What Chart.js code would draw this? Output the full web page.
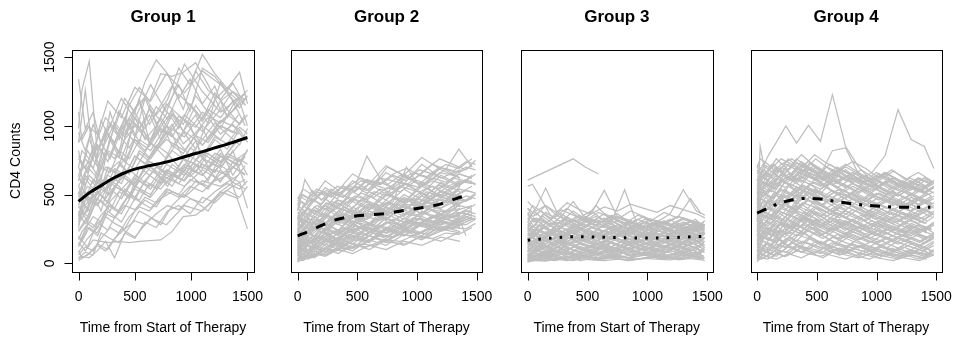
<!DOCTYPE html>
<html>
<head>
<meta charset="utf-8">
<script src="https://cdn.jsdelivr.net/npm/chart.js@4.4.1/dist/chart.umd.min.js"></script>
<style>
  html, body { margin: 0; padding: 0; background: #fff; }
  #wrap { position: relative; width: 957px; height: 341px; }
  #wrap canvas { position: absolute; left: 0; top: 0; }
</style>
</head>
<body>
<div id="wrap">
  <canvas id="g1" width="957" height="341"></canvas>
  <canvas id="g2" width="957" height="341"></canvas>
  <canvas id="g3" width="957" height="341"></canvas>
  <canvas id="g4" width="957" height="341"></canvas>
</div>
<script>
// axis labels
const groupTitles = ["Group 1", "Group 2", "Group 3", "Group 4"];
const xTickValues = [0, 500, 1000, 1500];
const yTickValues = [0, 500, 1000, 1500];
const xTitle = "Time from Start of Therapy";
const yTitle = "CD4 Counts";

// visit schedules (days since start of therapy)
const days1a = [0, 60, 130, 200, 280, 360, 450, 540, 630, 730, 830, 930, 1040, 1150, 1260, 1370, 1480];
const days1b = [0, 30, 95, 165, 240, 320, 410, 500, 590, 690, 790, 890, 990, 1100, 1210, 1320, 1430, 1500];
const days1c = [0, 80, 170, 260, 380, 500, 640, 780, 940, 1100, 1260, 1420];
const days2a = [0, 60, 120, 200, 280, 380, 480, 580, 690, 800, 910, 1020, 1130, 1240, 1350, 1460];
const days2b = [0, 30, 90, 160, 240, 330, 430, 530, 640, 750, 860, 970, 1080, 1190, 1300, 1410, 1490];
const days2c = [0, 45, 140, 230, 340, 460, 600, 740, 890, 1040, 1200, 1360];
const days3a = [0, 70, 150, 240, 330, 430, 530, 640, 750, 860, 970, 1080, 1190, 1300, 1410, 1480];
const days3b = [0, 40, 110, 190, 280, 380, 480, 590, 700, 810, 920, 1030, 1140, 1250, 1360, 1450];
const days3c = [0, 50, 130, 220, 320, 440, 570, 700, 840, 980, 1120, 1260, 1400, 1470];
const days4a = [0, 50, 120, 200, 290, 380, 480, 580, 690, 800, 910, 1020, 1130, 1240, 1350, 1460];
const days4b = [0, 25, 90, 160, 240, 330, 430, 530, 630, 740, 850, 960, 1070, 1180, 1290, 1400, 1480];
const days4c = [0, 70, 160, 260, 370, 490, 610, 740, 870, 1000, 1140, 1280, 1420];
const days4d = [0, 35, 140, 230, 330, 440, 550, 670, 800, 940, 1080, 1220, 1360, 1480];

// per-subject CD4 counts, group 1
const cd4Group1a = [
  [450, 620, 540, 700, 660, 820, 760, 900, 850, 980, 920, 1050, 990, 1120, 1060, 1180, 1230],
  [1340, 980, 1100, 860, 1020, 940, 1060, 1180, 1010, 1150, 1290, 1120, 1400, 1260, 1190, 1310, 1150],
  [60, 120, 90, 180, 260, 220, 340, 410, 380, 470, 520, 480, 600, 560, 650, 700, 640],
  [320, 520, 430, 610, 560, 720, 650, 800, 740, 690, 860, 800, 930, 880, 1000, 950, 1080],
  [700, 560, 810, 690, 900, 770, 1020, 880, 1140, 950, 1090, 1010, 1220, 1100, 980, 1150, 1240],
  [230, 300, 260, 350, 420, 380, 500, 460, 580, 540, 640, 600, 720, 680, 590, 740, 800],
  [520, 470, 610, 560, 680, 740, 650, 820, 760, 900, 1080, 960, 1150, 1020, 1320, 1180, 1000],
  [150, 90, 170, 160, 150, 160, 150, 160, 165, 170, 230, 340, 350, 420, 500, 560, 610],
  [880, 1260, 760, 1040, 900, 1110, 980, 1200, 870, 1060, 940, 760, 890, 700, 830, 640, 780],
  [410, 360, 480, 540, 500, 600, 680, 620, 740, 700, 820, 760, 660, 800, 730, 860, 920],
  [40, 80, 60, 220, 180, 150, 260, 380, 340, 280, 420, 500, 450, 380, 520, 590, 540],
  [600, 760, 690, 880, 1000, 920, 1150, 1280, 1180, 1380, 1360, 1390, 1460, 1300, 1120, 1250, 1190],
  [280, 420, 500, 380, 600, 560, 470, 700, 640, 580, 720, 660, 800, 740, 690, 820, 570],
  [950, 820, 1010, 880, 760, 930, 840, 980, 1080, 900, 1010, 870, 950, 1060, 940, 1010, 890],
  [130, 250, 340, 300, 450, 520, 480, 600, 560, 680, 640, 760, 720, 600, 780, 700, 650],
  [500, 640, 580, 760, 1100, 900, 1050, 980, 1120, 1040, 850, 960, 1080, 900, 1030, 1110, 1200],
  [360, 290, 410, 460, 380, 520, 600, 540, 480, 630, 560, 690, 610, 540, 680, 590, 710],
  [760, 690, 840, 610, 920, 800, 1160, 1040, 870, 990, 1110, 960, 830, 1030, 1180, 1250, 1150]
];
const cd4Group1b = [
  [90, 40, 70, 130, 90, 180, 250, 310, 280, 360, 420, 390, 470, 440, 520, 580, 540, 600],
  [980, 1260, 1470, 820, 960, 880, 1060, 920, 1200, 1010, 1150, 1300, 1110, 1420, 1360, 1240, 1130, 1220],
  [480, 560, 420, 620, 540, 690, 640, 780, 720, 860, 800, 700, 840, 780, 920, 870, 990, 940],
  [200, 160, 260, 220, 340, 290, 250, 380, 460, 410, 540, 500, 610, 570, 680, 640, 760, 720],
  [640, 580, 720, 860, 780, 1000, 920, 1060, 980, 1140, 1050, 1230, 1150, 1030, 1190, 1280, 1200, 1260],
  [30, 50, 40, 90, 160, 40, 220, 180, 300, 260, 380, 420, 360, 480, 440, 530, 480, 560],
  [560, 500, 640, 580, 700, 660, 760, 1060, 900, 1000, 940, 1070, 1010, 760, 900, 830, 970, 880],
  [340, 450, 380, 520, 470, 560, 640, 580, 700, 650, 560, 690, 630, 720, 670, 780, 740, 820],
  [820, 700, 900, 780, 980, 860, 740, 900, 820, 960, 1100, 980, 1160, 1050, 1240, 1120, 1010, 1080],
  [260, 380, 330, 470, 420, 560, 520, 460, 600, 540, 680, 630, 780, 720, 660, 800, 750, 640],
  [700, 820, 760, 900, 1060, 980, 1200, 1100, 1320, 1480, 1380, 1200, 1340, 1160, 1290, 1060, 1180, 1000],
  [420, 500, 460, 560, 620, 560, 520, 640, 590, 700, 660, 620, 740, 690, 800, 760, 710, 830],
  [170, 230, 300, 260, 360, 330, 420, 390, 480, 440, 520, 480, 560, 520, 600, 640, 590, 400],
  [1100, 900, 1000, 760, 880, 1020, 940, 1120, 1210, 1080, 1190, 1420, 1300, 1520, 1380, 1270, 1390, 1160],
  [380, 320, 440, 520, 460, 400, 540, 480, 600, 700, 640, 580, 700, 800, 740, 680, 420, 250],
  [600, 680, 740, 640, 820, 760, 900, 1000, 920, 830, 960, 880, 780, 900, 1020, 940, 860, 980]
];
const cd4Group1c = [
  [300, 520, 460, 700, 640, 900, 820, 1000, 920, 1100, 1020, 1150],
  [80, 180, 260, 420, 360, 540, 480, 620, 700, 640, 780, 720],
  [520, 380, 600, 500, 760, 680, 880, 760, 960, 860, 1040, 980],
  [190, 120, 300, 240, 420, 560, 500, 680, 600, 760, 700, 860],
  [640, 820, 700, 960, 1200, 1050, 1300, 1100, 1450, 1250, 1100, 1200],
  [360, 480, 420, 560, 640, 560, 700, 620, 560, 680, 600, 740],
  [20, 60, 140, 100, 250, 190, 330, 280, 420, 380, 520, 470],
  [460, 560, 500, 640, 580, 780, 700, 580, 720, 640, 800, 700],
  [240, 340, 520, 440, 640, 560, 780, 900, 820, 1000, 900, 1080],
  [780, 660, 860, 740, 1000, 880, 760, 920, 1080, 960, 1120, 1020],
  [120, 260, 200, 380, 300, 470, 400, 540, 480, 600, 560, 640],
  [560, 700, 620, 820, 760, 1020, 900, 1160, 1040, 860, 1000, 940],
  [420, 300, 480, 560, 470, 620, 540, 720, 640, 820, 740, 900],
  [880, 1000, 940, 1180, 1060, 1280, 1180, 1380, 1240, 1400, 1300, 1180]
];

// group 2
const cd4Group2a = [
  [120, 180, 150, 220, 260, 230, 300, 280, 340, 310, 370, 350, 410, 380, 440, 470],
  [480, 420, 530, 460, 500, 560, 520, 600, 570, 640, 600, 680, 650, 720, 690, 760],
  [20, 60, 90, 80, 130, 120, 170, 150, 200, 190, 240, 220, 270, 250, 300, 330],
  [250, 310, 280, 360, 330, 410, 380, 450, 420, 390, 470, 440, 500, 470, 540, 520],
  [380, 610, 520, 460, 540, 480, 560, 510, 590, 550, 620, 580, 650, 610, 560, 640],
  [60, 110, 90, 150, 190, 170, 230, 210, 260, 240, 290, 330, 300, 350, 320, 380],
  [200, 260, 330, 290, 380, 450, 560, 780, 620, 540, 580, 520, 560, 500, 580, 600],
  [150, 120, 200, 170, 240, 210, 270, 250, 220, 290, 260, 320, 290, 340, 370, 350],
  [330, 290, 370, 340, 420, 390, 350, 430, 400, 470, 440, 510, 480, 550, 600, 580],
  [40, 30, 70, 60, 100, 90, 130, 120, 160, 150, 140, 190, 180, 220, 210, 260],
  [420, 380, 460, 520, 480, 560, 530, 610, 580, 650, 690, 640, 720, 680, 830, 700],
  [100, 160, 140, 200, 180, 250, 230, 280, 260, 320, 300, 280, 350, 330, 390, 420],
  [280, 240, 300, 270, 330, 310, 370, 340, 310, 380, 360, 410, 390, 450, 430, 480],
  [10, 50, 40, 90, 80, 120, 110, 160, 200, 190, 230, 220, 260, 300, 280, 320],
  [190, 230, 210, 270, 320, 290, 360, 410, 380, 450, 700, 560, 620, 590, 650, 620],
  [360, 420, 470, 430, 510, 480, 560, 530, 620, 600, 570, 640, 610, 690, 660, 710],
  [80, 140, 120, 180, 160, 210, 190, 250, 230, 270, 250, 300, 280, 320, 300, 360],
  [230, 200, 250, 300, 270, 320, 300, 260, 330, 310, 360, 340, 390, 370, 420, 400],
  [140, 200, 260, 230, 300, 270, 340, 320, 390, 360, 430, 410, 470, 450, 510, 560],
  [300, 360, 340, 400, 450, 420, 490, 460, 540, 510, 580, 550, 600, 570, 650, 620],
  [50, 80, 110, 100, 140, 130, 180, 160, 210, 190, 240, 280, 260, 300, 290, 340],
  [170, 150, 190, 230, 210, 260, 240, 290, 270, 250, 310, 290, 340, 320, 360, 390]
];
const cd4Group2b = [
  [260, 330, 300, 280, 350, 400, 380, 460, 420, 500, 470, 440, 520, 490, 560, 610, 570],
  [30, 20, 60, 50, 110, 90, 150, 130, 180, 170, 210, 200, 250, 240, 290, 280, 320],
  [450, 500, 470, 540, 510, 470, 560, 620, 580, 700, 650, 610, 690, 760, 720, 680, 750],
  [120, 90, 150, 200, 180, 160, 230, 270, 240, 300, 280, 330, 310, 360, 340, 390, 430],
  [210, 280, 250, 320, 290, 360, 340, 300, 370, 350, 410, 390, 440, 420, 470, 450, 500],
  [70, 100, 90, 140, 170, 150, 210, 190, 240, 220, 260, 300, 280, 330, 310, 360, 340],
  [340, 300, 370, 420, 390, 460, 440, 510, 480, 550, 520, 590, 570, 540, 620, 600, 650],
  [160, 220, 200, 260, 240, 300, 350, 320, 380, 360, 410, 390, 450, 430, 480, 460, 510],
  [20, 40, 30, 70, 60, 110, 100, 140, 130, 170, 160, 200, 190, 230, 260, 250, 290],
  [390, 450, 420, 480, 530, 500, 560, 540, 600, 570, 640, 610, 580, 660, 640, 700, 680],
  [100, 130, 170, 150, 200, 180, 230, 210, 190, 250, 230, 280, 260, 310, 290, 340, 320],
  [290, 260, 320, 300, 350, 330, 380, 360, 410, 440, 420, 470, 450, 500, 480, 530, 510],
  [180, 240, 220, 290, 270, 330, 310, 370, 350, 400, 380, 430, 410, 460, 440, 490, 470],
  [60, 90, 130, 110, 160, 140, 190, 170, 220, 200, 250, 230, 210, 270, 250, 300, 330],
  [230, 270, 250, 310, 290, 340, 320, 370, 350, 330, 390, 370, 420, 400, 440, 200],
  [420, 480, 450, 520, 490, 560, 530, 600, 570, 540, 610, 660, 630, 700, 670, 740, 720],
  [140, 110, 170, 150, 200, 240, 220, 270, 250, 300, 280, 330, 310, 350, 330, 380, 360],
  [310, 350, 400, 370, 440, 410, 480, 450, 520, 490, 560, 530, 500, 570, 540, 600, 580]
];
const cd4Group2c = [
  [90, 160, 110, 230, 170, 280, 220, 330, 260, 380, 320, 430],
  [250, 180, 300, 240, 350, 290, 420, 360, 470, 410, 520, 480],
  [30, 90, 60, 140, 100, 190, 150, 240, 200, 280, 250, 330],
  [410, 350, 460, 390, 520, 450, 580, 500, 650, 560, 700, 620],
  [160, 240, 190, 300, 230, 360, 290, 410, 340, 460, 400, 500],
  [330, 420, 360, 470, 400, 520, 450, 380, 500, 430, 560, 480],
  [10, 40, 90, 60, 120, 90, 170, 130, 210, 170, 250, 220],
  [200, 150, 260, 210, 320, 260, 380, 310, 430, 360, 490, 420],
  [120, 200, 150, 260, 210, 310, 250, 360, 300, 420, 350, 460],
  [470, 540, 490, 600, 530, 650, 580, 710, 640, 770, 680, 620],
  [60, 30, 110, 80, 150, 110, 200, 160, 250, 200, 300, 260],
  [280, 350, 300, 400, 340, 450, 390, 500, 440, 560, 490, 600],
  [140, 90, 180, 130, 230, 170, 280, 220, 330, 270, 380, 330],
  [370, 300, 410, 350, 460, 400, 520, 460, 580, 510, 640, 570],
  [50, 110, 80, 160, 120, 200, 160, 250, 200, 290, 240, 310],
  [220, 290, 240, 340, 280, 390, 330, 440, 380, 490, 430, 540],
  [100, 60, 140, 100, 180, 140, 230, 180, 270, 220, 310, 270],
  [300, 240, 340, 290, 380, 330, 430, 370, 480, 420, 530, 470],
  [180, 250, 200, 290, 240, 340, 280, 380, 320, 420, 360, 400],
  [20, 70, 40, 110, 70, 140, 100, 170, 130, 200, 160, 230],
  [430, 500, 450, 550, 490, 600, 530, 660, 580, 720, 620, 680],
  [260, 200, 290, 240, 330, 280, 380, 320, 420, 360, 470, 410],
  [70, 140, 100, 180, 130, 220, 170, 260, 200, 300, 240, 280],
  [350, 280, 390, 330, 440, 370, 490, 420, 540, 460, 590, 520],
  [150, 210, 170, 250, 200, 290, 230, 330, 270, 370, 310, 350],
  [40, 20, 70, 50, 100, 70, 130, 100, 160, 130, 190, 160],
  [230, 310, 260, 360, 300, 410, 340, 460, 380, 510, 420, 560],
  [110, 180, 130, 220, 160, 260, 200, 300, 240, 340, 280, 320],
  [320, 380, 330, 420, 360, 470, 400, 520, 440, 580, 480, 540],
  [80, 40, 120, 80, 160, 110, 200, 150, 240, 180, 270, 230]
];

// group 3
const cd4Group3a = [
  [180, 240, 210, 160, 230, 200, 260, 220, 190, 250, 210, 240, 200, 260, 230, 210],
  [40, 30, 60, 50, 80, 40, 70, 60, 90, 50, 80, 70, 60, 90, 70, 100],
  [320, 400, 547, 380, 300, 350, 280, 330, 260, 310, 240, 290, 250, 300, 260, 280],
  [120, 150, 110, 170, 140, 190, 160, 130, 180, 150, 200, 170, 140, 190, 160, 220],
  [260, 220, 290, 250, 330, 300, 360, 530, 340, 310, 260, 300, 270, 320, 290, 250],
  [20, 30, 20, 40, 30, 50, 40, 30, 50, 40, 60, 50, 40, 60, 50, 40],
  [90, 130, 100, 150, 120, 170, 140, 190, 160, 130, 180, 150, 200, 170, 140, 190],
  [400, 350, 420, 370, 440, 390, 360, 410, 380, 430, 400, 370, 420, 390, 360, 330],
  [210, 170, 230, 190, 250, 210, 180, 240, 200, 260, 220, 190, 250, 210, 270, 240],
  [60, 100, 80, 120, 90, 140, 110, 160, 130, 100, 150, 120, 170, 140, 110, 160],
  [150, 110, 170, 130, 190, 150, 210, 170, 140, 200, 160, 220, 180, 150, 210, 180],
  [350, 300, 370, 320, 280, 340, 300, 360, 320, 380, 340, 300, 360, 535, 380, 350],
  [30, 60, 40, 80, 60, 100, 70, 120, 90, 60, 110, 80, 130, 100, 70, 120],
  [240, 280, 250, 300, 270, 230, 290, 260, 310, 280, 250, 300, 270, 240, 290, 260],
  [100, 80, 120, 90, 140, 110, 80, 130, 100, 150, 120, 90, 140, 110, 160, 130],
  [280, 330, 290, 350, 310, 270, 320, 290, 340, 300, 260, 310, 280, 330, 300, 270],
  [10, 20, 15, 30, 20, 35, 25, 20, 30, 25, 35, 30, 25, 40, 30, 20],
  [170, 220, 190, 240, 210, 260, 230, 200, 250, 220, 270, 240, 210, 260, 230, 280],
  [70, 50, 90, 60, 110, 80, 130, 100, 70, 120, 90, 140, 110, 80, 130, 100],
  [450, 380, 420, 350, 400, 330, 380, 310, 360, 290, 340, 270, 320, 250, 300, 280],
  [130, 170, 140, 190, 160, 210, 180, 150, 200, 170, 220, 190, 160, 210, 180, 230],
  [50, 40, 70, 50, 90, 60, 50, 80, 60, 100, 70, 60, 90, 70, 110, 80],
  [200, 250, 220, 270, 240, 290, 260, 230, 280, 250, 300, 270, 240, 290, 260, 310]
];
const cd4Group3b = [
  [605, null, null, null, null, 760, 700, 650],
  [560, 575, 470, 350, 300, 380, 320, 260, 310, 250, 290, 230, 270, 220, 260, 240],
  [150, 190, 160, 220, 190, 240, 210, 180, 230, 200, 250, 220, 190, 240, 210, 260],
  [40, 80, 60, 100, 70, 120, 90, 60, 110, 80, 130, 100, 70, 120, 90, 140],
  [300, 260, 320, 280, 340, 450, 330, 290, 350, 310, 270, 320, 290, 340, 310, 280],
  [110, 90, 140, 110, 160, 130, 100, 150, 120, 170, 140, 110, 160, 130, 180, 150],
  [230, 270, 240, 290, 260, 310, 280, 250, 300, 535, 270, 320, 290, 260, 310, 280],
  [20, 40, 30, 50, 40, 60, 50, 40, 60, 50, 70, 60, 50, 70, 60, 50],
  [190, 150, 210, 170, 230, 190, 160, 220, 180, 240, 200, 170, 230, 190, 250, 220],
  [80, 120, 100, 140, 110, 160, 130, 100, 150, 120, 170, 140, 110, 160, 130, 180],
  [350, 420, 380, 330, 390, 350, 310, 370, 330, 290, 350, 310, 370, 330, 470, 360],
  [60, 40, 80, 60, 100, 70, 60, 90, 70, 110, 80, 70, 100, 80, 120, 90],
  [260, 220, 280, 240, 200, 260, 230, 290, 250, 210, 270, 240, 300, 260, 220, 280],
  [130, 160, 140, 180, 150, 200, 170, 140, 190, 160, 210, 180, 150, 200, 170, 220],
  [10, 30, 20, 40, 30, 20, 40, 30, 50, 40, 30, 50, 40, 60, 50, 40],
  [400, 340, 380, 320, 360, 300, 340, 290, 330, 280, 320, 270, 310, 260, 300, 250],
  [170, 210, 180, 230, 200, 170, 220, 190, 240, 210, 180, 230, 200, 250, 220, 190],
  [90, 70, 110, 80, 130, 100, 70, 120, 90, 140, 110, 80, 130, 100, 150, 120],
  [220, 180, 240, 200, 260, 220, 190, 250, 210, 270, 230, 200, 260, 220, 280, 250],
  [50, 90, 60, 110, 80, 60, 100, 70, 120, 90, 60, 110, 80, 130, 100, 70]
];
const cd4Group3c = [
  [140, 210, 160, 250, 190, 280, 220, 180, 240, 200, 270, 220, 180, 230],
  [30, 50, 20, 60, 40, 70, 30, 60, 40, 80, 50, 40, 70, 50],
  [260, 330, 280, 220, 300, 250, 320, 260, 200, 270, 230, 290, 240, 300],
  [80, 120, 60, 110, 150, 100, 140, 90, 130, 170, 120, 160, 110, 150],
  [190, 140, 220, 170, 250, 200, 160, 230, 180, 140, 210, 170, 240, 200],
  [10, 30, 50, 20, 40, 60, 30, 50, 20, 40, 60, 30, 50, 30],
  [330, 270, 360, 300, 240, 320, 270, 340, 280, 230, 300, 250, 320, 270],
  [110, 170, 130, 190, 150, 210, 170, 120, 180, 140, 200, 160, 220, 180],
  [50, 90, 130, 80, 120, 70, 110, 150, 100, 140, 90, 130, 170, 120],
  [230, 190, 260, 210, 170, 240, 200, 270, 220, 180, 250, 210, 280, 240],
  [160, 120, 190, 140, 220, 170, 130, 200, 150, 230, 180, 140, 210, 170],
  [20, 60, 40, 90, 50, 30, 70, 40, 90, 60, 30, 80, 50, 90],
  [300, 380, 320, 260, 340, 280, 420, 310, 250, 320, 270, 340, 290, 240],
  [70, 40, 90, 60, 110, 80, 50, 100, 70, 120, 90, 60, 110, 80],
  [200, 240, 180, 260, 220, 170, 230, 190, 250, 210, 160, 220, 190, 260],
  [120, 80, 140, 100, 160, 120, 90, 150, 110, 170, 130, 100, 160, 130],
  [40, 20, 60, 30, 50, 20, 40, 70, 40, 60, 30, 50, 80, 50],
  [280, 240, 310, 260, 220, 290, 340, 280, 230, 300, 260, 210, 280, 230],
  [90, 140, 110, 160, 130, 180, 140, 100, 160, 120, 180, 140, 190, 160],
  [180, 220, 170, 240, 200, 250, 210, 170, 230, 190, 250, 210, 170, 230],
  [30, 70, 50, 100, 60, 120, 80, 60, 110, 70, 120, 90, 60, 100],
  [250, 200, 270, 220, 290, 240, 200, 260, 210, 280, 230, 190, 250, 210],
  [60, 100, 70, 130, 90, 150, 110, 80, 140, 100, 160, 120, 90, 140],
  [150, 100, 170, 130, 200, 150, 110, 180, 140, 210, 160, 120, 190, 150],
  [15, 25, 40, 20, 35, 50, 25, 40, 20, 35, 50, 25, 40, 30],
  [370, 300, 340, 280, 320, 260, 300, 240, 280, 230, 270, 220, 260, 230]
];

// group 4
const cd4Group4a = [
  [420, 520, 480, 600, 560, 650, 610, 700, 660, 590, 640, 560, 610, 540, 590, 520],
  [150, 230, 200, 290, 260, 340, 310, 280, 350, 300, 260, 310, 270, 230, 280, 250],
  [600, 680, 640, 720, 760, 700, 790, 730, 680, 740, 690, 620, 680, 610, 660, 600],
  [40, 90, 70, 130, 110, 160, 130, 100, 140, 110, 80, 120, 90, 60, 100, 70],
  [350, 410, 460, 420, 500, 470, 540, 500, 450, 510, 460, 420, 470, 430, 480, 440],
  [250, 320, 290, 370, 340, 300, 380, 340, 400, 360, 310, 370, 330, 290, 350, 400],
  [510, 590, 560, 640, 600, 680, 640, 610, 660, 620, 570, 630, 590, 550, 610, 580],
  [90, 160, 130, 200, 240, 210, 260, 220, 180, 230, 190, 150, 200, 160, 120, 170],
  [700, 630, 720, 660, 600, 680, 620, 560, 640, 580, 520, 590, 530, 470, 540, 490],
  [300, 380, 350, 430, 400, 470, 440, 400, 460, 420, 370, 430, 390, 350, 410, 370],
  [20, 60, 40, 90, 70, 120, 100, 80, 110, 90, 60, 100, 70, 50, 80, 60],
  [460, 550, 520, 600, 570, 530, 590, 550, 500, 560, 510, 460, 520, 480, 430, 490],
  [200, 260, 230, 300, 270, 330, 300, 260, 320, 280, 240, 300, 260, 220, 280, 240],
  [550, 480, 570, 650, 610, 700, 660, 620, 680, 640, 590, 650, 600, 560, 620, 580],
  [120, 190, 160, 240, 210, 280, 250, 220, 270, 230, 190, 240, 200, 160, 210, 180],
  [380, 450, 420, 490, 460, 530, 490, 450, 510, 470, 420, 480, 440, 400, 460, 420],
  [650, 720, 690, 760, 720, 660, 710, 650, 600, 660, 610, 560, 620, 570, 520, 580],
  [60, 110, 90, 150, 120, 80, 130, 100, 60, 110, 80, 40, 90, 60, 30, 70],
  [270, 350, 320, 400, 370, 440, 410, 370, 430, 390, 340, 400, 360, 320, 380, 340],
  [480, 400, 470, 530, 490, 560, 520, 480, 540, 500, 450, 510, 470, 420, 480, 440],
  [170, 240, 210, 290, 250, 320, 280, 240, 300, 260, 210, 270, 230, 190, 250, 210],
  [580, 650, 620, 700, 650, 720, 680, 630, 690, 640, 590, 650, 600, 560, 620, 570],
  [330, 280, 350, 310, 380, 340, 410, 370, 330, 390, 350, 310, 370, 330, 290, 350],
  [100, 60, 120, 80, 150, 110, 70, 120, 80, 140, 100, 60, 110, 70, 130, 90],
  [430, 500, 470, 540, 500, 570, 530, 480, 540, 500, 450, 510, 460, 410, 470, 430]
];
const cd4Group4b = [
  [600, 650, 780, 880, 1000, 875, 1004, 887, 1227, 851, 700, 600, 650, 560, 600, 520, 560],
  [500, 540, 520, 580, 620, 600, 640, 610, 590, 630, 600, 660, 780, 1118, 900, 850, 690],
  [300, 851, 560, 620, 580, 650, 600, 560, 610, 570, 520, 580, 540, 490, 550, 510, 560],
  [230, 300, 270, 340, 310, 380, 350, 310, 370, 330, 290, 350, 310, 270, 330, 290, 340],
  [50, 110, 80, 140, 110, 170, 140, 100, 150, 110, 70, 120, 80, 50, 90, 60, 100],
  [400, 470, 440, 510, 480, 550, 510, 470, 530, 490, 440, 500, 460, 420, 480, 440, 490],
  [140, 200, 170, 240, 210, 270, 240, 200, 250, 210, 170, 220, 180, 140, 190, 150, 200],
  [620, 560, 640, 700, 660, 730, 690, 650, 819, 839, 650, 600, 660, 610, 560, 620, 580],
  [280, 350, 320, 390, 360, 420, 380, 340, 400, 360, 320, 380, 340, 300, 360, 320, 370],
  [10, 40, 30, 70, 50, 90, 70, 50, 80, 60, 40, 70, 50, 30, 60, 40, 70],
  [520, 600, 570, 640, 600, 670, 630, 590, 650, 610, 560, 620, 580, 530, 590, 550, 600],
  [190, 250, 220, 290, 260, 330, 300, 260, 310, 270, 230, 290, 250, 210, 270, 230, 280],
  [450, 380, 460, 420, 490, 450, 520, 480, 440, 500, 460, 410, 470, 430, 380, 440, 400],
  [80, 140, 110, 180, 150, 210, 180, 140, 190, 150, 110, 160, 120, 90, 140, 100, 150],
  [350, 420, 390, 460, 430, 500, 460, 420, 480, 440, 390, 450, 410, 370, 430, 390, 440],
  [560, 640, 610, 680, 640, 600, 660, 620, 570, 630, 580, 530, 590, 540, 490, 550, 510],
  [240, 180, 260, 220, 290, 250, 320, 280, 240, 300, 260, 220, 280, 240, 200, 260, 220],
  [700, 760, 720, 660, 720, 680, 740, 690, 640, 700, 650, 600, 660, 610, 560, 620, 580],
  [120, 80, 150, 110, 180, 140, 100, 160, 120, 80, 130, 90, 150, 110, 70, 120, 80],
  [380, 320, 400, 360, 430, 390, 460, 420, 380, 440, 400, 350, 410, 370, 330, 390, 350],
  [30, 70, 50, 100, 80, 130, 100, 70, 120, 90, 50, 100, 70, 40, 80, 50, 90],
  [470, 540, 510, 580, 550, 620, 580, 540, 600, 560, 510, 570, 530, 490, 550, 510, 560],
  [210, 270, 240, 310, 280, 350, 310, 270, 330, 290, 250, 310, 270, 230, 290, 250, 300]
];
const cd4Group4c = [
  [380, 480, 420, 560, 500, 620, 540, 470, 560, 490, 420, 500, 440],
  [110, 200, 150, 260, 210, 300, 240, 190, 270, 210, 160, 230, 180],
  [560, 660, 600, 720, 650, 760, 680, 600, 680, 610, 540, 620, 560],
  [30, 80, 50, 120, 80, 160, 110, 70, 130, 90, 50, 100, 60],
  [260, 350, 300, 410, 350, 460, 390, 330, 410, 350, 290, 360, 310],
  [460, 380, 500, 430, 550, 470, 580, 500, 430, 510, 440, 380, 460],
  [180, 260, 210, 320, 260, 370, 300, 240, 320, 260, 200, 280, 220],
  [640, 560, 700, 620, 740, 660, 600, 680, 600, 540, 620, 560, 500],
  [70, 140, 100, 190, 140, 230, 170, 120, 190, 140, 90, 160, 110],
  [320, 420, 370, 480, 420, 530, 450, 390, 470, 410, 350, 430, 370],
  [500, 590, 540, 650, 590, 700, 620, 550, 630, 560, 490, 570, 510],
  [140, 90, 180, 130, 230, 170, 120, 200, 150, 100, 170, 120, 80],
  [410, 330, 450, 380, 500, 420, 360, 440, 380, 320, 400, 340, 290],
  [230, 300, 260, 360, 310, 400, 330, 280, 350, 290, 240, 310, 260],
  [600, 700, 640, 760, 680, 640, 720, 640, 580, 660, 590, 530, 610],
  [20, 50, 30, 70, 40, 90, 60, 30, 70, 40, 20, 60, 30],
  [350, 270, 380, 320, 430, 360, 300, 380, 320, 260, 340, 280, 230],
  [490, 560, 510, 620, 560, 510, 590, 520, 460, 540, 480, 420, 500],
  [160, 230, 190, 280, 230, 320, 260, 210, 280, 220, 170, 240, 190],
  [280, 200, 310, 250, 350, 290, 240, 310, 250, 200, 270, 220, 170],
  [720, 640, 760, 680, 790, 700, 640, 720, 650, 590, 670, 600, 540]
];
const cd4Group4d = [
  [430, 520, 470, 590, 530, 640, 570, 500, 580, 510, 450, 530, 470, 520],
  [90, 170, 120, 220, 160, 260, 200, 140, 210, 160, 110, 180, 130, 180],
  [330, 260, 370, 300, 410, 350, 290, 370, 310, 250, 330, 270, 220, 280],
  [540, 630, 570, 690, 610, 730, 650, 580, 660, 590, 520, 600, 540, 600],
  [200, 280, 230, 340, 270, 380, 310, 250, 320, 260, 210, 290, 230, 290],
  [40, 100, 60, 140, 90, 180, 120, 70, 140, 90, 50, 120, 70, 130],
  [390, 470, 420, 540, 470, 580, 500, 440, 520, 460, 400, 480, 420, 470],
  [250, 180, 290, 220, 330, 270, 210, 290, 230, 180, 250, 200, 150, 210],
  [610, 540, 660, 590, 700, 630, 570, 650, 580, 520, 600, 540, 480, 550],
  [130, 200, 160, 250, 200, 290, 230, 180, 250, 190, 150, 210, 160, 220],
  [470, 390, 510, 440, 560, 480, 420, 500, 440, 380, 460, 400, 350, 420],
  [300, 380, 330, 440, 380, 480, 410, 350, 420, 360, 300, 370, 320, 380],
  [60, 30, 90, 50, 120, 80, 40, 100, 60, 30, 80, 40, 20, 60],
  [680, 600, 720, 650, 760, 680, 620, 700, 630, 570, 650, 590, 530, 600],
  [170, 110, 210, 150, 250, 190, 140, 210, 160, 120, 190, 140, 100, 160],
  [360, 440, 390, 500, 430, 540, 460, 400, 470, 410, 360, 430, 380, 440],
  [220, 160, 250, 190, 290, 230, 180, 250, 200, 150, 220, 170, 130, 190],
  [510, 590, 540, 650, 580, 690, 610, 550, 620, 560, 500, 570, 520, 580]
];

// smoothed group means
const smoothDays1 = [0, 100, 200, 300, 400, 500, 600, 700, 800, 900, 1000, 1100, 1200, 1300, 1400, 1500];
const smoothDays = [0, 100, 200, 300, 400, 500, 600, 700, 800, 900, 1000, 1100, 1200, 1300, 1400, 1450];
const meanGroup1 = [450, 515, 565, 615, 655, 685, 705, 722, 740, 765, 790, 812, 838, 862, 888, 915];
const meanGroup2 = [200, 235, 275, 312, 333, 345, 352, 358, 370, 385, 398, 412, 432, 462, 490, 500];
const meanGroup3 = [168, 175, 183, 190, 193, 192, 190, 188, 186, 184, 183, 184, 186, 190, 194, 195];
const meanGroup4 = [365, 405, 440, 462, 472, 470, 458, 444, 432, 423, 416, 411, 408, 407, 407, 407];

const FONT = '"Liberation Sans", Arial, Helvetica, sans-serif';

// box, axes and labels drawn in base-graphics style
const framePlugin = {
  id: "frame",
  afterDraw(chart, args, opts) {
    const { ctx, chartArea: a } = chart;
    const xs = chart.scales.x, ys = chart.scales.y;
    const half = v => Math.round(v) + 0.5;
    ctx.save();
    ctx.strokeStyle = "#000";
    ctx.fillStyle = "#000";
    ctx.lineWidth = 1;
    ctx.strokeRect(half(a.left), half(a.top), Math.round(a.right) - Math.round(a.left), Math.round(a.bottom) - Math.round(a.top));

    const bottom = half(a.bottom);
    ctx.beginPath();
    ctx.moveTo(half(xs.getPixelForValue(xTickValues[0])), bottom);
    ctx.lineTo(half(xs.getPixelForValue(xTickValues[xTickValues.length - 1])), bottom);
    xTickValues.forEach(v => {
      const px = half(xs.getPixelForValue(v));
      ctx.moveTo(px, bottom);
      ctx.lineTo(px, bottom + 8);
    });
    ctx.stroke();

    ctx.font = "14px " + FONT;
    ctx.textAlign = "center";
    ctx.textBaseline = "middle";
    xTickValues.forEach(v => ctx.fillText(String(v), xs.getPixelForValue(v), a.bottom + 25.5));
    ctx.fillText(xTitle, (a.left + a.right) / 2, 328);

    if (opts.yAxis) {
      const left = half(a.left);
      ctx.beginPath();
      ctx.moveTo(left, half(ys.getPixelForValue(yTickValues[0])));
      ctx.lineTo(left, half(ys.getPixelForValue(yTickValues[yTickValues.length - 1])));
      yTickValues.forEach(v => {
        const py = half(ys.getPixelForValue(v));
        ctx.moveTo(left, py);
        ctx.lineTo(left - 8, py);
      });
      ctx.stroke();
      yTickValues.forEach(v => {
        ctx.save();
        ctx.translate(a.left - 22, ys.getPixelForValue(v));
        ctx.rotate(-Math.PI / 2);
        ctx.fillText(String(v), 0, 0);
        ctx.restore();
      });
      ctx.save();
      ctx.translate(16.5, (a.top + a.bottom) / 2);
      ctx.rotate(-Math.PI / 2);
      ctx.fillText(yTitle, 0, 0);
      ctx.restore();
    }

    ctx.font = "bold 17px " + FONT;
    ctx.fillText(opts.title, (a.left + a.right) / 2, 17);
    ctx.restore();
  }
};

const panels = [
  { id: "g1", left: 72, right: 254, xMin: -58, xMax: 1558, yAxis: true,
    visits: [[days1a, cd4Group1a], [days1b, cd4Group1b], [days1c, cd4Group1c]],
    smoothX: smoothDays1, smoothY: meanGroup1, dash: [] },
  { id: "g2", left: 291, right: 482, xMin: -56, xMax: 1544, yAxis: false,
    visits: [[days2a, cd4Group2a], [days2b, cd4Group2b], [days2c, cd4Group2c]],
    smoothX: smoothDays, smoothY: meanGroup2, dash: [10, 10] },
  { id: "g3", left: 521, right: 712.5, xMin: -56, xMax: 1544, yAxis: false,
    visits: [[days3a, cd4Group3a], [days3b, cd4Group3b], [days3c, cd4Group3c]],
    smoothX: smoothDays, smoothY: meanGroup3, dash: [2.5, 8.2] },
  { id: "g4", left: 750.5, right: 941.5, xMin: -56, xMax: 1544, yAxis: false,
    visits: [[days4a, cd4Group4a], [days4b, cd4Group4b], [days4c, cd4Group4c], [days4d, cd4Group4d]],
    smoothX: smoothDays, smoothY: meanGroup4, dash: [10, 8, 3, 8] }
];

panels.forEach((p, i) => {
  const datasets = [{
    data: p.smoothX.map((d, k) => ({ x: d, y: p.smoothY[k] })),
    borderColor: "#000",
    borderWidth: 3,
    borderDash: p.dash,
    borderCapStyle: "butt",
    cubicInterpolationMode: "monotone",
    order: 0
  }];
  p.visits.forEach(([days, subjects]) => {
    subjects.forEach(values => {
      datasets.push({
        data: values.map((v, k) => ({ x: days[k], y: v })),
        borderColor: "#bebebe",
        borderWidth: 1.25,
        spanGaps: true,
        order: 1
      });
    });
  });

  new Chart(document.getElementById(p.id), {
    type: "line",
    data: { datasets },
    options: {
      responsive: false,
      animation: false,
      events: [],
      layout: { padding: { left: p.left, right: 957 - p.right, top: 50, bottom: 341 - 271.5 } },
      elements: { point: { radius: 0 }, line: { tension: 0 } },
      scales: {
        x: { type: "linear", min: p.xMin, max: p.xMax, display: false },
        y: { type: "linear", min: -60, max: 1552, display: false }
      },
      plugins: {
        legend: { display: false },
        tooltip: { enabled: false },
        frame: { title: groupTitles[i], yAxis: p.yAxis }
      }
    },
    plugins: [framePlugin]
  });
});
</script>
</body>
</html>
